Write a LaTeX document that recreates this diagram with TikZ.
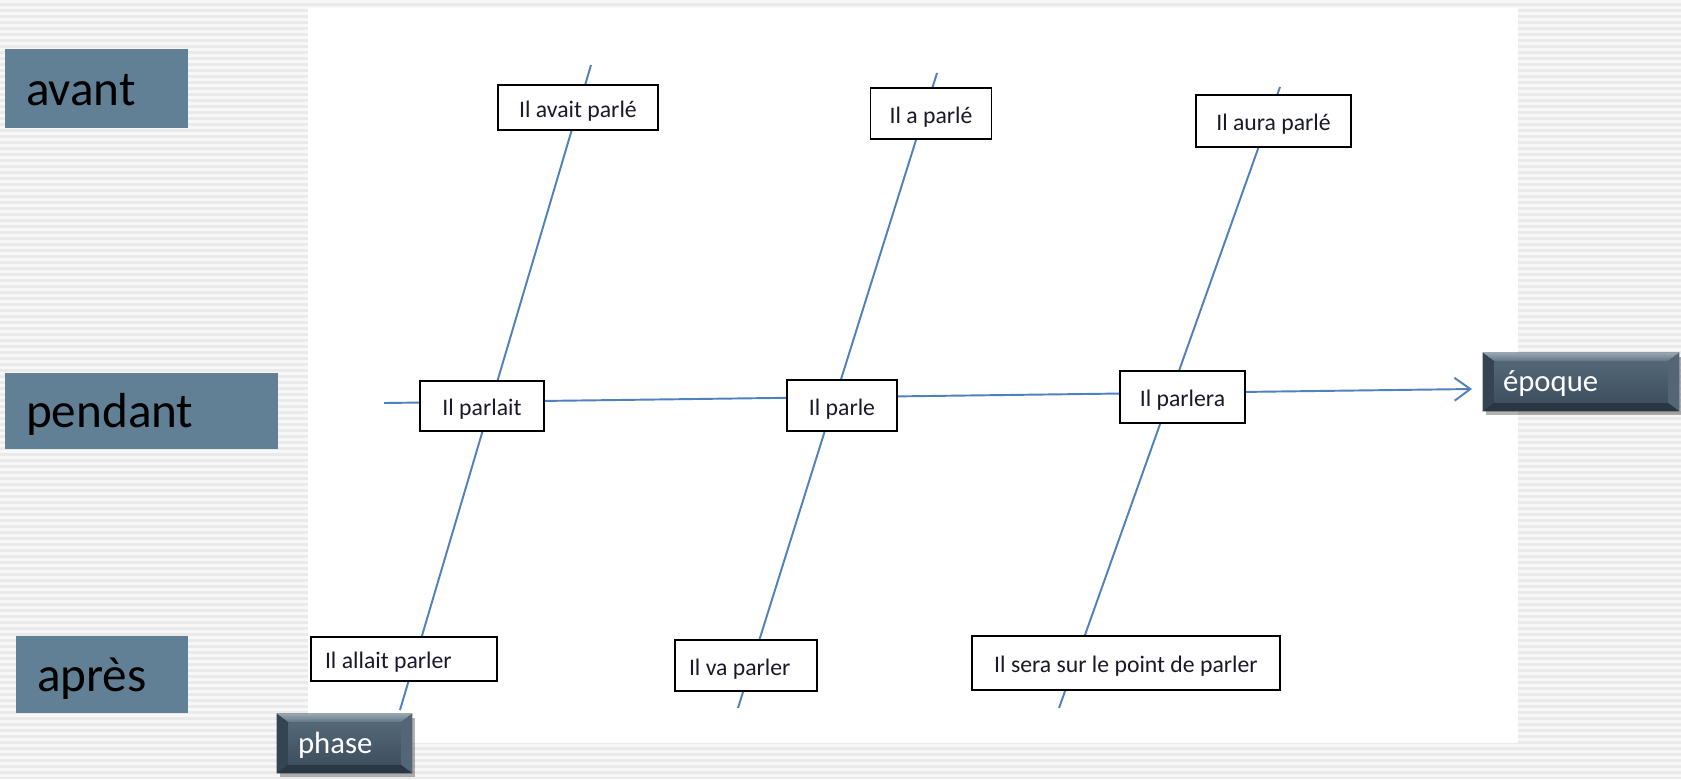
\documentclass[tikz,border=0pt]{standalone}
\usepackage{fontspec}
\setmainfont{Carlito}
\usetikzlibrary{arrows.meta,calc}
\pgfdeclarelayer{bg}
\pgfdeclarelayer{bev}
\pgfsetlayers{bg,bev,main}
\definecolor{lineblue}{RGB}{79,129,189}
\definecolor{slate}{RGB}{97,127,149}
\definecolor{stripeA}{RGB}{234,234,234}
\definecolor{stripeB}{RGB}{247,247,247}
\definecolor{txt}{RGB}{25,25,40}
\definecolor{bevbase}{RGB}{62,80,95}
\definecolor{bevtop}{RGB}{150,166,179}
\definecolor{bevtopb}{RGB}{96,115,130}
\definecolor{bevleft}{RGB}{52,68,82}
\definecolor{bevright}{RGB}{84,102,117}
\definecolor{bevbot}{RGB}{42,55,66}
\definecolor{bevfacea}{RGB}{84,103,118}
\definecolor{bevfaceb}{RGB}{62,80,95}
\tikzset{
  px/.style={x=0.02cm,y=-0.02cm},
  spoke/.style={draw=lineblue, line width=1.1pt},
  tbox/.style={draw=black, fill=white, line width=0.75pt, text=txt,
    font=\fontsize{13.5}{16}\selectfont, inner sep=0pt,
    text height=12pt, text depth=1pt},
  tboxthick/.style={tbox, line width=1.6pt},
  sidelabel/.style={fill=slate, text=black, font=\fontsize{28}{32}\selectfont,
    inner sep=0pt, text height=21pt, text depth=2pt},
  bevnode/.style={inner sep=0pt, text=white, font=\fontsize{17.5}{21}\selectfont,
    text height=12.5pt, text depth=1.5pt}
}
\newcommand\drawbevel[1]{%
  \begin{pgfonlayer}{bev}
    \fill[black, opacity=.3] ([shift={(3,4)}]#1.south west) rectangle ([shift={(3,4)}]#1.north east);
    \fill[bevbase] (#1.south west) rectangle (#1.north east);
    \fill[top color=bevtop, bottom color=bevtopb] (#1.north west) -- (#1.north east) -- ([shift={(-12,9)}]#1.north east) -- ([shift={(12,9)}]#1.north west) -- cycle;
    \fill[bevleft] (#1.north west) -- ([shift={(12,9)}]#1.north west) -- ([shift={(12,-9)}]#1.south west) -- (#1.south west) -- cycle;
    \fill[bevright] (#1.north east) -- ([shift={(-12,9)}]#1.north east) -- ([shift={(-12,-9)}]#1.south east) -- (#1.south east) -- cycle;
    \fill[bevbot] (#1.south west) -- ([shift={(12,-9)}]#1.south west) -- ([shift={(-12,-9)}]#1.south east) -- (#1.south east) -- cycle;
    \fill[top color=bevfacea, bottom color=bevfaceb] ([shift={(12,9)}]#1.north west) rectangle ([shift={(-12,-9)}]#1.south east);
  \end{pgfonlayer}}
\begin{document}
\begin{tikzpicture}[px]
\useasboundingbox (0,0) rectangle (1681,779);
\begin{pgfonlayer}{bg}
  \fill[stripeA] (0,0) rectangle (1681,779);
  \foreach \yy in {1,7,...,779} \draw[stripeB, line width=1.7pt] (0,\yy) -- (1681,\yy);
  \fill[white] (308,8) rectangle (1518,743);
\end{pgfonlayer}

% side labels
\node[sidelabel, minimum width=3.66cm, minimum height=1.58cm] (avant) at (96.5,88.5) {\makebox[2.82cm][l]{avant}};
\node[sidelabel, minimum width=5.46cm, minimum height=1.52cm] (pendant) at (141.5,411) {\makebox[4.62cm][l]{pendant}};
\node[sidelabel, minimum width=3.44cm, minimum height=1.54cm] (apres) at (102,674.5) {\makebox[2.60cm][l]{après}};

% spokes
\coordinate (t1) at (591,65);  \coordinate (b1) at (400,710);
\coordinate (t2) at (937,73);  \coordinate (b2) at (738,708);
\coordinate (t3) at (1280,87); \coordinate (b3) at (1059,708);
\coordinate (hs) at (384,403); \coordinate (ht) at (1472,389);
\draw[spoke] (t1) -- (b1);
\draw[spoke] (t2) -- (b2);
\draw[spoke] (t3) -- (b3);
\draw[spoke, -{Straight Barb[length=9pt,width=13pt]}] (hs) -- (ht);

% boxes
\node[tbox, minimum width=3.2cm, minimum height=0.9cm] (avait) at (578,107.5) {Il avait parlé};
\node[tbox, minimum width=2.42cm, minimum height=1.02cm] (aparle) at (931,113.5) {Il a parlé};
\node[tbox, minimum width=3.1cm, minimum height=1.04cm] (aura) at (1273.5,121) {Il aura parlé};
\node[tboxthick, minimum width=2.48cm, minimum height=1.0cm] (parlait) at (482,406) {Il parlait};
\node[tboxthick, minimum width=2.2cm, minimum height=1.02cm] (parle) at (842,405.5) {Il parle};
\node[tbox, minimum width=2.5cm, minimum height=1.04cm] (parlera) at (1182.5,397) {Il parlera};
\node[tbox, minimum width=3.72cm, minimum height=0.88cm] (allait) at (404,659) {\makebox[3.16cm][l]{Il allait parler}};
\node[tbox, minimum width=2.84cm, minimum height=1.02cm] (va) at (746,665.5) {\makebox[2.28cm][l]{Il va parler}};
\node[tbox, minimum width=6.16cm, minimum height=1.08cm] (sera) at (1126,663) {Il sera sur le point de parler};

% bevel boxes
\node[bevnode, minimum width=2.7cm, minimum height=1.18cm] (phase) at (344.5,743.5) {\makebox[1.86cm][l]{phase}};
\drawbevel{phase}
\node[bevnode, minimum width=3.92cm, minimum height=1.16cm] (epoque) at (1581,382) {\makebox[3.12cm][l]{époque}};
\drawbevel{epoque}
\end{tikzpicture}
\end{document}
